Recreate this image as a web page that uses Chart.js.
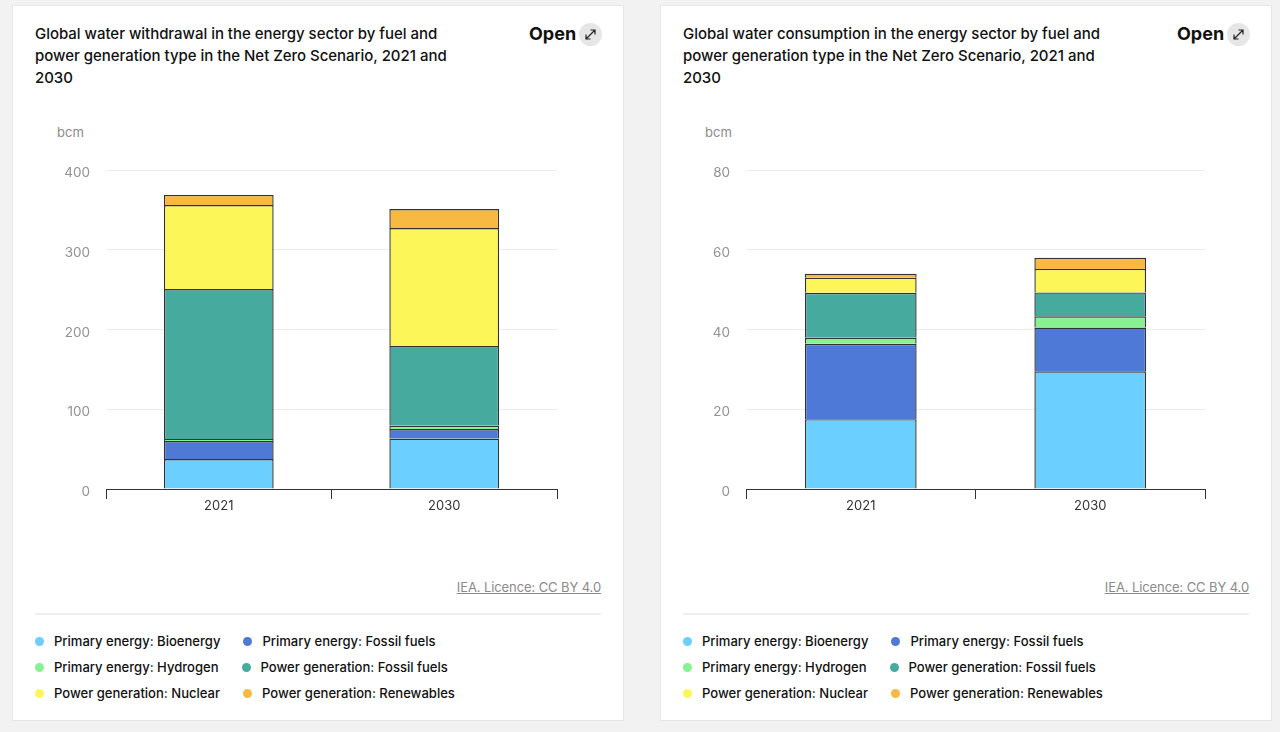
<!DOCTYPE html>
<html>
<head>
<meta charset="utf-8">
<script src="https://cdn.jsdelivr.net/npm/chart.js@4"></script>
<style>
  html, body { margin: 0; padding: 0; background: #f2f2f2; }
  body { width: 1280px; height: 732px; overflow: hidden; position: relative; font-family: Inter, sans-serif; color: #111; }
  .card { position: absolute; top: 5px; width: 610px; height: 714px; background: #fff; border: 1px solid #e6e6e6; }
  .title { position: absolute; left: 22px; top: 17px; width: 430px; font-size: 15px; font-weight: 500; line-height: 22px; letter-spacing: -0.03px; }
  .open { position: absolute; left: 516px; top: 17px; font-size: 18px; font-weight: 700; line-height: 22px; }
  .icon { position: absolute; left: 566px; top: 17px; width: 23px; height: 23px; border-radius: 50%; background: #e6e6e6; }
  .unit { position: absolute; left: 44px; top: 118px; font-size: 13px; line-height: 16px; color: #8a8a8a; }
  .source { position: absolute; right: 22px; top: 572px; font-size: 13px; line-height: 18px; letter-spacing: -0.1px; color: #8a8a8a; text-decoration: underline; }
  .rule { position: absolute; left: 22px; right: 22px; top: 607px; height: 2px; background: #eee; }
  .legend { position: absolute; left: 22px; top: 622px; font-size: 13.05px; font-weight: 500; }
  .row { display: flex; height: 26px; align-items: center; gap: 23px; }
  .item { display: flex; align-items: center; }
  .dot { width: 9px; height: 9px; border-radius: 50%; margin-right: 10px; }
  canvas { position: absolute; }
</style>
</head>
<body>
<script>
const categories = ['2021', '2030']
const seriesNames = [
  'Primary energy: Bioenergy', 'Primary energy: Fossil fuels',
  'Primary energy: Hydrogen', 'Power generation: Fossil fuels',
  'Power generation: Nuclear', 'Power generation: Renewables'
]
const seriesColors = ['#6bcfff', '#4e79d6', '#86f292', '#46aa9f', '#fdf658', '#f8b942']

// withdrawal, bcm
const withdrawalBio = [37.6, 63.3]
const withdrawalFossil = [22.6, 11.9]
const withdrawalHydrogen = [2.5, 4.4]
const withdrawalPower = [188.1, 99.7]
const withdrawalNuclear = [105.2, 148]
const withdrawalRenew = [12.7, 23.8]
const withdrawalTicks = [0, 100, 200, 300, 400]

// consumption, bcm
const consumptionBio = [17.5, 29.5]
const consumptionFossil = [18.9, 11]
const consumptionHydrogen = [1.5, 2.8]
const consumptionPower = [11.3, 6]
const consumptionNuclear = [3.8, 5.9]
const consumptionRenew = [1, 2.8]
const consumptionTicks = [0, 20, 40, 60, 80]

const panels = [
  {
    title: 'Global water withdrawal in the energy sector by fuel and power generation type in the Net Zero Scenario, 2021 and 2030',
    cardLeft: 12, axisLeft: 106, axisRight: 557,
    series: [withdrawalBio, withdrawalFossil, withdrawalHydrogen, withdrawalPower, withdrawalNuclear, withdrawalRenew],
    ticks: withdrawalTicks
  },
  {
    title: 'Global water consumption in the energy sector by fuel and power generation type in the Net Zero Scenario, 2021 and 2030',
    cardLeft: 660, axisLeft: 746, axisRight: 1205,
    series: [consumptionBio, consumptionFossil, consumptionHydrogen, consumptionPower, consumptionNuclear, consumptionRenew],
    ticks: consumptionTicks
  }
]

const CANVAS_TOP = 120
const CANVAS_HEIGHT = 420
const AREA_TOP = 170
const AREA_BOTTOM = 489

const addDiv = (parent, className, text) => {
  const el = document.createElement('div')
  el.className = className
  if (text) el.textContent = text
  parent.appendChild(el)
  return el
}

panels.forEach(p => {
  const card = addDiv(document.body, 'card')
  card.style.left = p.cardLeft + 'px'
  addDiv(card, 'title', p.title)
  addDiv(card, 'open', 'Open')
  addDiv(card, 'icon').innerHTML = '<svg width="23" height="23" viewBox="0 0 23 23" fill="none" stroke="#222" stroke-width="1.2"><path d="M7 16 L16 7 M11.5 7 H16 V11.5 M7 11.5 V16 H11.5"/></svg>'
  addDiv(card, 'unit', 'bcm')
  addDiv(card, 'source', 'IEA. Licence: CC BY 4.0')
  addDiv(card, 'rule')

  const legend = addDiv(card, 'legend')
  for (let i = 0; i < seriesNames.length; i += 2) {
    const row = addDiv(legend, 'row')
    ;[i, i + 1].forEach(k => {
      const item = addDiv(row, 'item')
      addDiv(item, 'dot').style.background = seriesColors[k]
      addDiv(item, 'label', seriesNames[k])
    })
  }

  const canvasLeft = p.cardLeft + 28
  const canvasRight = p.axisRight + 12
  const canvas = document.createElement('canvas')
  canvas.style.left = canvasLeft + 'px'
  canvas.style.top = CANVAS_TOP + 'px'
  canvas.style.width = (canvasRight - canvasLeft) + 'px'
  canvas.style.height = CANVAS_HEIGHT + 'px'
  canvas.width = canvasRight - canvasLeft
  canvas.height = CANVAS_HEIGHT
  document.body.appendChild(canvas)

  new Chart(canvas.getContext('2d'), {
    type: 'bar',
    data: {
      labels: categories,
      datasets: p.series.map((values, i) => ({
        label: seriesNames[i],
        data: values,
        backgroundColor: seriesColors[i],
        borderColor: '#333',
        borderWidth: 1.4,
        categoryPercentage: 1,
        barPercentage: 0.487
      }))
    },
    options: {
      animation: false,
      responsive: false,
      layout: { padding: { top: AREA_TOP - CANVAS_TOP, right: 12, left: 0, bottom: 0 } },
      plugins: { legend: { display: false }, tooltip: { enabled: false } },
      scales: {
        x: {
          stacked: true,
          offset: true,
          afterFit: (scale) => { scale.height = CANVAS_TOP + CANVAS_HEIGHT - AREA_BOTTOM },
          border: { color: '#333', width: 1 },
          grid: { color: '#333', drawOnChartArea: false, drawTicks: true, tickLength: 10 },
          ticks: { color: '#333', padding: -1, maxRotation: 0, font: { family: 'Inter', size: 13 } }
        },
        y: {
          stacked: true,
          min: p.ticks[0],
          max: p.ticks[p.ticks.length - 1],
          afterFit: (scale) => { scale.width = p.axisLeft - canvasLeft },
          afterBuildTicks: (scale) => { scale.ticks = p.ticks.map(value => ({ value })) },
          border: { display: false },
          grid: { color: '#ececec', drawTicks: false },
          ticks: { color: '#929292', padding: 16, labelOffset: 3, font: { family: 'Inter', size: 13.5 } }
        }
      }
    }
  })
})
</script>
</body>
</html>
